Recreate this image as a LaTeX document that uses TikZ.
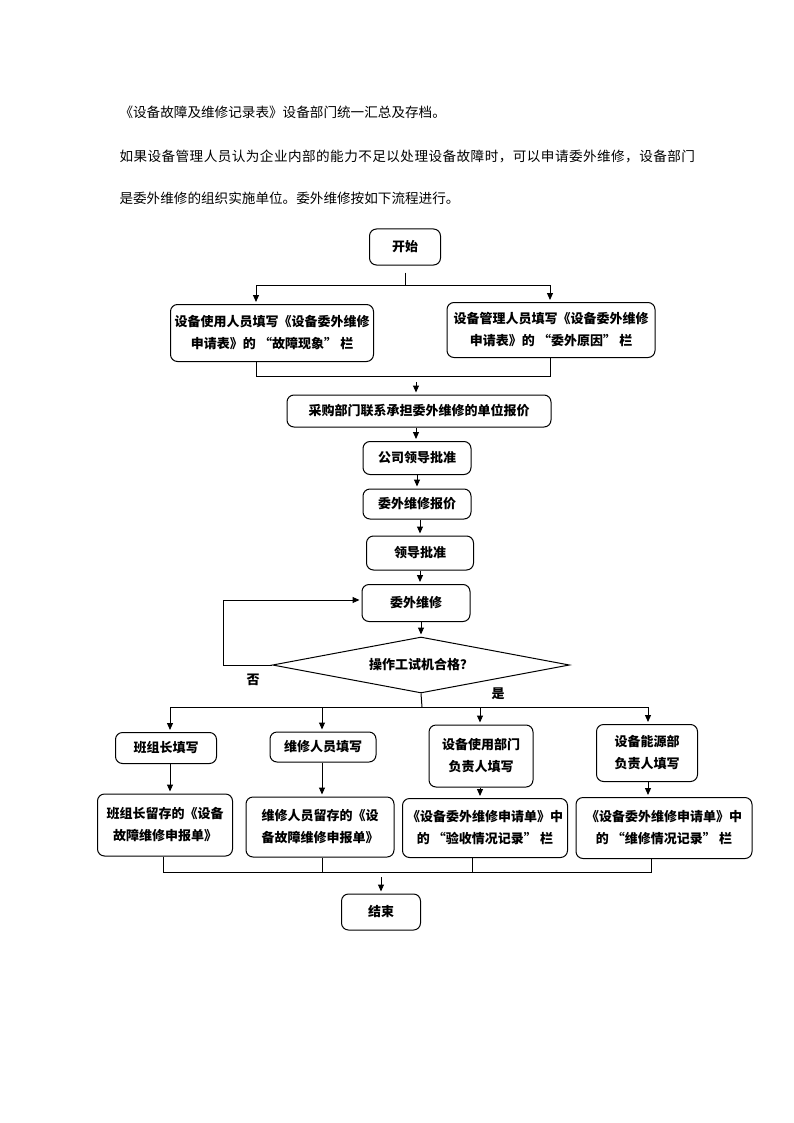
\documentclass[tikz,border=0pt]{standalone}
\usepackage{fontspec}
\setmainfont{Noto Sans CJK SC}
\usepackage{tikz}
\usetikzlibrary{arrows.meta,shapes.geometric}
\newcommand{\qopen}{\hspace{0.25em}“}
\newcommand{\qclose}{”\hspace{0.25em}}

\begin{document}
\begin{tikzpicture}[x=1pt, y=-1pt, line width=1pt,
            main/.style = {draw, rounded corners=7pt, inner sep=0pt, align=center, font=\bfseries\fontsize{13}{22}\selectfont},
            dec/.style = {draw, diamond, aspect=5.3, inner sep=0pt, font=\bfseries\fontsize{13}{16}\selectfont},
            txt/.style = {inner sep=0pt, anchor=base west, font=\fontsize{13.6}{16}\selectfont},
            lbl/.style = {inner sep=0pt, font=\bfseries\fontsize{13}{16}\selectfont},
            arr/.style = {-{Triangle[length=7pt,width=6pt]}, shorten >=2pt}]
            \useasboundingbox (0,0) rectangle (794,1123);
            % Text
            \node[txt] (t1) at (119,118) {《设备故障及维修记录表》设备部门统一汇总及存档。};
            \node[txt] (t2) at (119,162) {\addfontfeature{LetterSpace=3.3}如果设备管理人员认为企业内部的能力不足以处理设备故障时，可以申请委外维修，设备部门};
            \node[txt] (t3) at (119,204) {是委外维修的组织实施单位。委外维修按如下流程进行。};
            % Nodes
            \node[main, minimum width=71pt, minimum height=36pt] (1) at (405,247) {开始};
            \node[main, minimum width=203pt, minimum height=57pt] (2) at (272,333) {设备使用人员填写《设备委外维修\\申请表》的\qopen 故障现象\qclose 栏};
            \node[main, minimum width=208pt, minimum height=55pt] (3) at (551,330) {设备管理人员填写《设备委外维修\\申请表》的\qopen 委外原因\qclose 栏};
            \node[main, minimum width=264pt, minimum height=32pt] (4) at (419,411) {采购部门联系承担委外维修的单位报价};
            \node[main, minimum width=108pt, minimum height=33pt] (5) at (417,458) {公司领导批准};
            \node[main, minimum width=108pt, minimum height=30pt] (6) at (417,504) {委外维修报价};
            \node[main, minimum width=107pt, minimum height=34pt] (7) at (420,553) {领导批准};
            \node[main, minimum width=108pt, minimum height=37pt] (8) at (416,603) {委外维修};
            \node[dec, minimum width=297pt, minimum height=56pt] (9) at (421,665) {操作工试机合格？};
            \node[lbl] (no) at (253,680) {否};
            \node[lbl] (yes) at (498,694) {是};
            \node[main, minimum width=101pt, minimum height=31pt] (10) at (166,748) {班组长填写};
            \node[main, minimum width=106pt, minimum height=30pt] (11) at (323,747) {维修人员填写};
            \node[main, minimum width=104pt, minimum height=62pt] (12) at (481,756) {设备使用部门\\负责人填写};
            \node[main, minimum width=101pt, minimum height=57pt] (13) at (647,753) {设备能源部\\负责人填写};
            \node[main, minimum width=135pt, minimum height=62pt] (14) at (165,825) {班组长留存的《设备\\故障维修申报单》};
            \node[main, minimum width=148pt, minimum height=60pt] (15) at (320,827) {维修人员留存的《设\\备故障维修申报单》};
            \node[main, minimum width=165pt, minimum height=59pt] (16) at (485,828) {《设备委外维修申请单》中\\的\qopen 验收情况记录\qclose 栏};
            \node[main, minimum width=176pt, minimum height=61pt] (17) at (664,828) {《设备委外维修申请单》中\\的\qopen 维修情况记录\qclose 栏};
            \node[main, minimum width=79pt, minimum height=36pt] (18) at (381,912) {结束};
            % Junctions
            \coordinate (s1) at (405,285);
            \coordinate (s2) at (256,285);
            \coordinate (s3) at (550,285);
            \coordinate (m1) at (256,376);
            \coordinate (m2) at (550,376);
            \coordinate (m3) at (416,376);
            \coordinate (l1) at (223,665);
            \coordinate (l2) at (223,600);
            \coordinate (f0) at (422,707);
            \coordinate (f1) at (170,707);
            \coordinate (f2) at (322,707);
            \coordinate (f3) at (480,707);
            \coordinate (f4) at (648,707);
            \coordinate (g0) at (381,872);
            \coordinate (g1) at (163,872);
            \coordinate (g2) at (322,872);
            \coordinate (g3) at (472,872);
            \coordinate (g4) at (651,872);
            % Edges
            \draw[shorten <=7pt] (1) -- (s1);
            \draw (s2) -- (s3);
            \draw[arr] (s2) -- (2.north -| s2);
            \draw[arr] (s3) -- (3.north -| s3);
            \draw (2.south -| m1) -- (m1) -- (m2) -- (3.south -| m2);
            \draw[arr, shorten <=6pt] (m3) -- (4.north -| m3);
            \draw[arr] (4.south -| m3) -- (5.north -| m3);
            \draw[arr] (5) -- (6);
            \draw[arr] (6.south -| 7.north) -- (7.north);
            \draw[arr] (7.south) -- (7.south |- 8.north);
            \draw[arr] (8.south -| 9.north) -- (9.north);
            \draw[arr] (9.west) -- (l1) -- (l2) -- (8.west |- l2);
            \draw (9.south) -- (f0);
            \draw (f1) -- (f4);
            \draw[arr] (f1) -- (10.north -| f1);
            \draw[arr] (f2) -- (11.north -| f2);
            \draw[arr] (f3) -- (12.north -| f3);
            \draw[arr] (f4) -- (13.north -| f4);
            \draw[arr] (10.south -| f1) -- (14.north -| f1);
            \draw[arr] (11.south -| f2) -- (15.north -| f2);
            \draw[arr] (12.south -| f3) -- (16.north -| f3);
            \draw[arr] (13.south -| f4) -- (17.north -| f4);
            \draw (14.south -| g1) -- (g1) -- (g4) -- (17.south -| g4);
            \draw (15.south -| g2) -- (g2);
            \draw (16.south -| g3) -- (g3);
            \draw[arr, shorten <=5pt] (g0) -- (18.north -| g0);
\end{tikzpicture}
\end{document}
